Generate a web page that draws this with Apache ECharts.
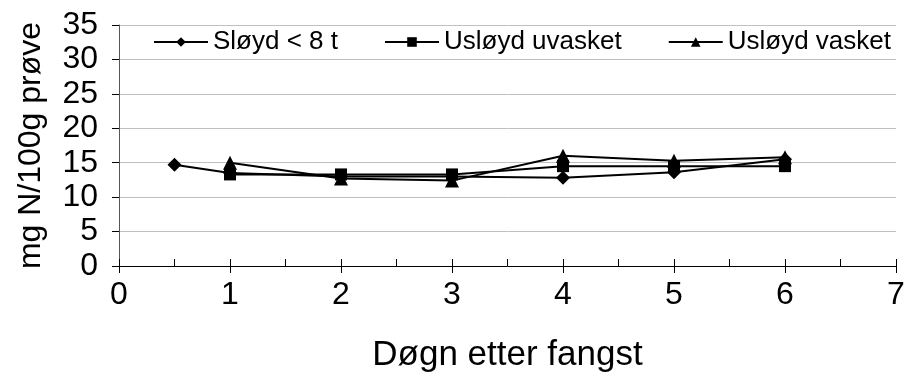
<!DOCTYPE html>
<html><head><meta charset="utf-8">
<script src="https://cdn.jsdelivr.net/npm/echarts@6/dist/echarts.min.js"></script>
<style>html,body{margin:0;padding:0;background:#fff}#c{width:909px;height:378px}</style>
</head><body><div id="c"></div>
<script>
const seriesNames = ['Sløyd < 8 t', 'Usløyd uvasket', 'Usløyd vasket'];
const sloydX = [0.5, 1, 2, 3, 4, 5, 6];
const sloydY = [14.7, 13.5, 13.0, 13.0, 12.8, 13.6, 15.5];
const uvasketX = [1, 2, 3, 4, 5, 6];
const uvasketY = [13.3, 13.3, 13.3, 14.5, 14.5, 14.5];
const vasketX = [1, 2, 3, 4, 5, 6];
const vasketY = [15.0, 12.7, 12.4, 16.0, 15.3, 15.8];

const pair = (xs, ys) => xs.map((x, i) => [x, ys[i]]);
const font = 'Liberation Sans, Arial, sans-serif';
const chart = echarts.init(document.getElementById('c'), null, {renderer: 'canvas'});
const mk = (name, data, symbol, size) => ({
  name, type: 'line', data, symbol, symbolSize: size, showSymbol: true,
  xAxisIndex: 0, yAxisIndex: 0,
  lineStyle: {color: '#000', width: 2}, itemStyle: {color: '#000'},
  emphasis: {disabled: true}, animation: false
});
chart.setOption({
  animation: false,
  grid: {left: 119, right: 13, top: 25, bottom: 104, containLabel: false},
  legend: {
    left: 148, top: 24, itemWidth: 54, itemHeight: 12, itemGap: 46,
    textStyle: {fontFamily: font, fontSize: 26, color: '#000'},
    data: seriesNames
  },
  xAxis: [{
    type: 'value', min: 0, max: 7, interval: 1,
    axisLine: {show: true, lineStyle: {color: '#000', width: 1}},
    axisTick: {show: true, length: 7, lineStyle: {color: '#000'}},
    axisLabel: {fontFamily: font, fontSize: 32, color: '#000', margin: 13},
    splitLine: {show: false},
    name: 'Døgn etter fangst', nameLocation: 'middle', nameGap: 72,
    nameTextStyle: {fontFamily: font, fontSize: 35, color: '#000'}
  }, {
    type: 'value', min: 0, max: 7, interval: 1, position: 'bottom',
    axisLine: {show: false},
    axisTick: {show: true, inside: true, length: 7, lineStyle: {color: '#000'}},
    minorTick: {show: true, splitNumber: 2, length: 7, lineStyle: {color: '#000'}},
    axisLabel: {show: false}, splitLine: {show: false}
  }],
  yAxis: {
    type: 'value', min: 0, max: 35, interval: 5,
    axisLine: {show: true, lineStyle: {color: '#555', width: 1}},
    axisTick: {show: true, length: 7, lineStyle: {color: '#000'}},
    axisLabel: {fontFamily: font, fontSize: 32, color: '#000', margin: 21},
    splitLine: {show: true, lineStyle: {color: '#c0c0c0', width: 1}},
    name: 'mg N/100g prøve', nameLocation: 'middle', nameGap: 72,
    nameTextStyle: {fontFamily: font, fontSize: 32, color: '#000'}
  },
  series: [
    mk(seriesNames[0], pair(sloydX, sloydY), 'diamond', 14),
    mk(seriesNames[1], pair(uvasketX, uvasketY), 'rect', 12),
    mk(seriesNames[2], pair(vasketX, vasketY), 'triangle', 14)
  ]
});
</script></body></html>
